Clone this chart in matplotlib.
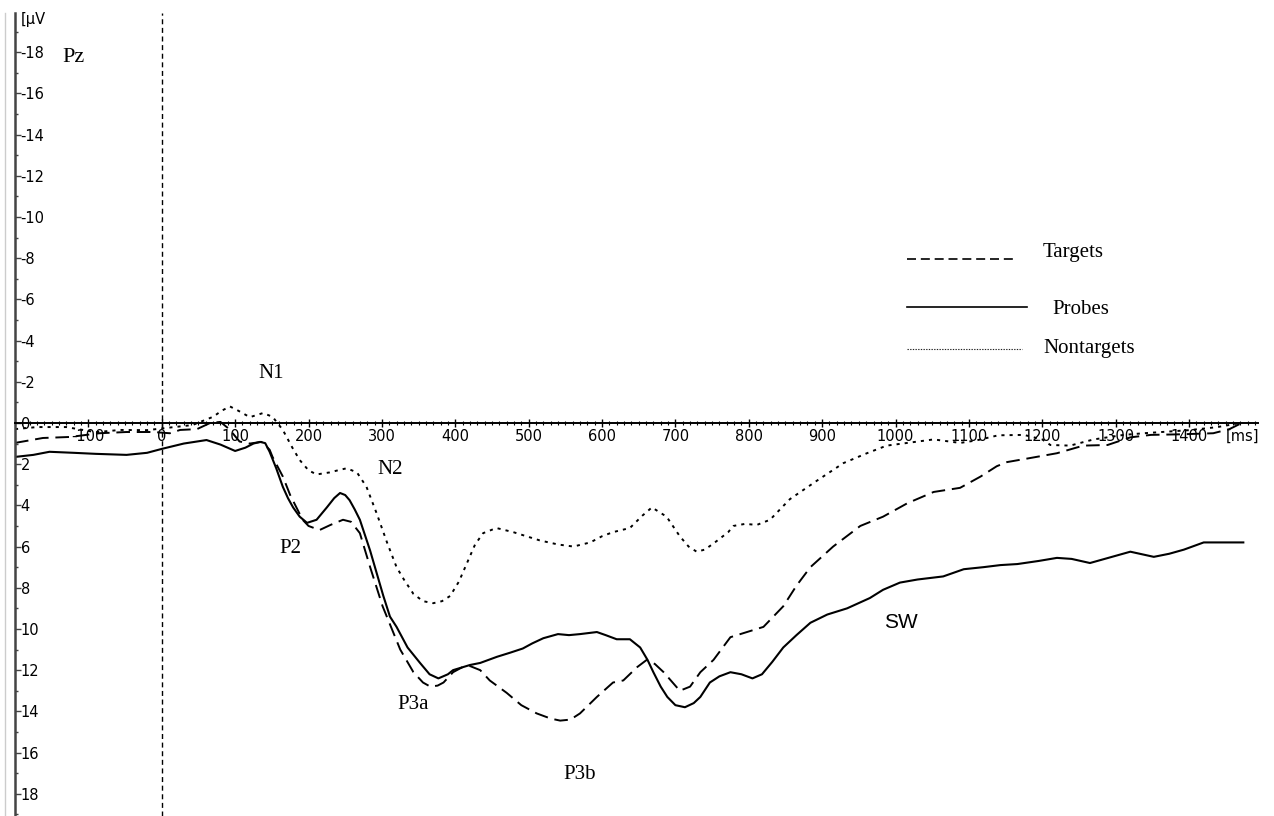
import matplotlib
matplotlib.use("Agg")
import matplotlib.pyplot as plt
from matplotlib.lines import Line2D
from matplotlib.ticker import FixedLocator, MultipleLocator

plt.rcParams["axes.unicode_minus"] = False

# ---- ERP grand averages at Pz (time in ms, amplitude in µV, negative up) ----
probes_t = [-200, -175, -153, -120, -90, -48, -20, 0, 30, 61, 80, 100, 114, 125, 134, 141,
            147, 156, 165, 172, 179, 188, 198, 211, 225, 235, 243, 250, 256, 263, 270, 284, 293,
            302, 311, 320, 335, 352, 365, 377, 390, 397, 420, 434, 457, 475, 492, 505, 520,
            540, 555, 570, 593, 605, 620, 638, 652, 662, 670, 680, 689, 700, 713, 725, 734,
            747, 760, 775, 790, 805, 818, 832, 847, 865, 884, 907, 934, 965, 983, 1006,
            1030, 1065, 1093, 1120, 1143, 1166, 1195, 1220, 1240, 1265, 1290, 1320, 1352,
            1373, 1393, 1420, 1450, 1474]
probes_v = [1.65, 1.55, 1.4, 1.45, 1.5, 1.55, 1.45, 1.26, 1.0, 0.83, 1.05, 1.36, 1.2, 1.0, 0.92, 0.98,
            1.4, 2.2, 3.1, 3.65, 4.1, 4.55, 4.85, 4.7, 4.1, 3.65, 3.4, 3.5, 3.75, 4.2, 4.7, 6.2, 7.3,
            8.4, 9.4, 9.9, 10.9, 11.65, 12.2, 12.4, 12.2, 12.0, 11.75, 11.65, 11.35, 11.15, 10.95, 10.7, 10.45,
            10.25, 10.3, 10.25, 10.15, 10.3, 10.5, 10.5, 10.9, 11.5, 12.1, 12.8, 13.3, 13.7, 13.8, 13.6, 13.3,
            12.6, 12.3, 12.1, 12.2, 12.4, 12.2, 11.6, 10.9, 10.3, 9.7, 9.3, 9.0, 8.5, 8.1, 7.75,
            7.6, 7.45, 7.1, 7.0, 6.9, 6.85, 6.7, 6.55, 6.6, 6.8, 6.55, 6.25, 6.5,
            6.35, 6.15, 5.8, 5.8, 5.8]

targets_t = [-200, -162, -125, -85, -48, -12, 11, 25, 48, 66, 80, 92, 106, 120, 136,
             147, 151, 165, 175, 192, 200, 215, 230, 247, 258, 270, 284, 301, 325, 343,
             356, 366, 376, 384, 397, 410, 420, 434, 447, 470, 490, 511, 530, 543, 557,
             570, 593, 615, 629, 648, 661, 672, 684, 706, 720, 734, 752, 775, 802, 820,
             847, 865, 884, 915, 952, 983, 1016, 1052, 1088, 1116, 1138, 1152, 1184, 1220,
             1256, 1289, 1320, 1348, 1390, 1433, 1455, 1472]
targets_v = [0.97, 0.73, 0.68, 0.5, 0.44, 0.44, 0.5, 0.34, 0.3, 0.0, -0.05, 0.3, 0.9, 1.0, 0.92,
             1.3, 1.65, 2.6, 3.5, 4.7, 5.0, 5.2, 4.95, 4.7, 4.8, 5.35, 7.0, 8.9, 11.0, 12.1,
             12.6, 12.8, 12.75, 12.6, 12.1, 11.85, 11.8, 12.0, 12.5, 13.1, 13.7, 14.1, 14.35, 14.45, 14.4,
             14.1, 13.3, 12.6, 12.5, 11.85, 11.5, 11.7, 12.1, 13.0, 12.8, 12.1, 11.5, 10.4, 10.1, 9.9,
             8.9, 7.9, 7.0, 6.0, 5.0, 4.55, 3.9, 3.35, 3.15, 2.6, 2.1, 1.9, 1.7, 1.47,
             1.1, 1.07, 0.7, 0.58, 0.55, 0.5, 0.3, 0.0]

nontargets_t = [-200, -170, -130, -90, -57, -20, 7, 42, 70, 82, 93, 104, 120, 138, 151,
                165, 178, 188, 200, 211, 229, 240, 252, 266, 279, 293, 307, 320, 330, 343,
                356, 370, 382, 393, 405, 416, 427, 438, 456, 479, 497, 515, 540, 561, 584,
                600, 615, 638, 655, 668, 688, 706, 718, 729, 740, 752, 772, 779, 795, 811,
                829, 856, 893, 929, 961, 988, 1016, 1052, 1088, 1110, 1140, 1175, 1200, 1211,
                1238, 1270, 1311, 1338, 1400, 1439, 1470]
nontargets_v = [0.3, 0.2, 0.2, 0.45, 0.34, 0.35, 0.24, 0.1, -0.3, -0.6, -0.8, -0.6, -0.28, -0.48, -0.3,
                0.34, 1.2, 1.8, 2.3, 2.5, 2.4, 2.3, 2.2, 2.4, 3.1, 4.4, 5.8, 7.0, 7.6, 8.3,
                8.65, 8.75, 8.65, 8.4, 7.7, 6.8, 5.9, 5.35, 5.1, 5.3, 5.5, 5.7, 5.9, 6.0, 5.8,
                5.5, 5.3, 5.1, 4.5, 4.1, 4.55, 5.5, 6.0, 6.25, 6.15, 5.85, 5.3, 5.0, 4.9, 4.95,
                4.7, 3.7, 2.8, 1.95, 1.47, 1.1, 0.97, 0.8, 0.97, 0.85, 0.6, 0.58, 0.8, 1.07,
                1.1, 0.8, 0.58, 0.5, 0.35, 0.2, 0.0]

x_ticks = list(range(-100, 1401, 100))
x_labels = [str(t) for t in x_ticks]
y_ticks = list(range(-18, 19, 2))
y_labels = [str(v) for v in y_ticks]

# component labels: (text, time, amplitude)
components = [("N1", 149, -2.2), ("N2", 311, 2.5), ("P2", 175, 6.3),
              ("P3a", 342, 13.9), ("P3b", 570, 17.3)]

W, H = 1274, 816
fig = plt.figure(figsize=(W / 100, H / 100), dpi=100)
ax = fig.add_axes([15 / W, 0, (1258 - 15) / W, (H - 13) / H])
ax.set_xlim(-200, 1494)
ax.set_ylim(19.08, -19.9)          # negative up

tick_font = {"family": "DejaVu Sans", "size": 10.5}
serif = {"family": "Liberation Serif", "size": 15}

# axes: left spine as amplitude axis, time axis through zero
for s in ("top", "right"):
    ax.spines[s].set_visible(False)
ax.spines["left"].set_color("#444444")
ax.spines["left"].set_linewidth(1.8)
ax.spines["bottom"].set_position(("data", 0))
ax.spines["bottom"].set_color("black")
ax.spines["bottom"].set_linewidth(1.4)

ax.xaxis.set_major_locator(FixedLocator(x_ticks))
ax.set_xticklabels(x_labels, fontdict=tick_font)
ax.xaxis.set_minor_locator(MultipleLocator(10))
ax.tick_params(axis="x", which="major", direction="inout", length=6, width=1, pad=1)
ax.tick_params(axis="x", which="minor", direction="inout", length=3.5, width=0.8)

ax.yaxis.set_major_locator(FixedLocator(y_ticks))
ax.set_yticklabels(y_labels, fontdict=tick_font)
ax.yaxis.set_minor_locator(MultipleLocator(1))
ax.tick_params(axis="y", which="major", direction="in", length=4, width=1,
               color="#444444", pad=-4)
ax.tick_params(axis="y", which="minor", direction="in", length=2.5, width=1,
               color="#444444")
for lab in ax.get_yticklabels():
    lab.set_horizontalalignment("left")

# stimulus onset
ax.axvline(0, color="black", lw=1.0, linestyle=(0, (3.6, 2.6)))

# waveforms
ax.plot(nontargets_t, nontargets_v, color="black", lw=1.4, linestyle=(0, (1.6, 2.6)))
ax.plot(targets_t, targets_v, color="black", lw=1.4, linestyle=(0, (7, 3.5)))
ax.plot(probes_t, probes_v, color="black", lw=1.5)

# labels
ax.text(-135, -17.5, "Pz", va="baseline", ha="left", fontdict={"family": "Liberation Serif", "size": 16})
for name, t, v in components:
    ax.text(t, v, name, ha="center", va="baseline", fontdict=serif)
ax.text(1007, 9.95, "SW", ha="center", va="baseline",
        fontdict={"family": "Liberation Sans", "size": 15})
ax.text(6 / 1243, -19.6, "[µV", transform=ax.get_yaxis_transform(),
        ha="left", va="center", fontdict=tick_font)
ax.text(1473, 0.3, "[ms]", ha="center", va="top", fontdict=tick_font)

# legend
def fy(y):
    return 1 - y / H

legend_rows = [
    ("Targets", 259, 1017, 1043, 253, dict(lw=1.2, linestyle=(0, (5.4, 2.9)), color="black")),
    ("Probes", 307, 1027, 1052, 310, dict(lw=1.2, color="black")),
    ("Nontargets", 349, 1022, 1043, 348, dict(lw=0.8, linestyle=(0, (1.2, 1.2)), color="#222222")),
]
for label, ly, x1, tx, ty, style in legend_rows:
    fig.add_artist(Line2D([907 / W, x1 / W], [fy(ly), fy(ly)], transform=fig.transFigure, **style))
    fig.text(tx / W, fy(ty), label, ha="left", va="center", fontdict=serif)

# thin frame line at the far left
fig.add_artist(Line2D([5 / W, 5 / W], [0, fy(13)], transform=fig.transFigure,
                      color="#cccccc", lw=1.0))

fig.savefig("out.png", dpi=100, facecolor="white")
